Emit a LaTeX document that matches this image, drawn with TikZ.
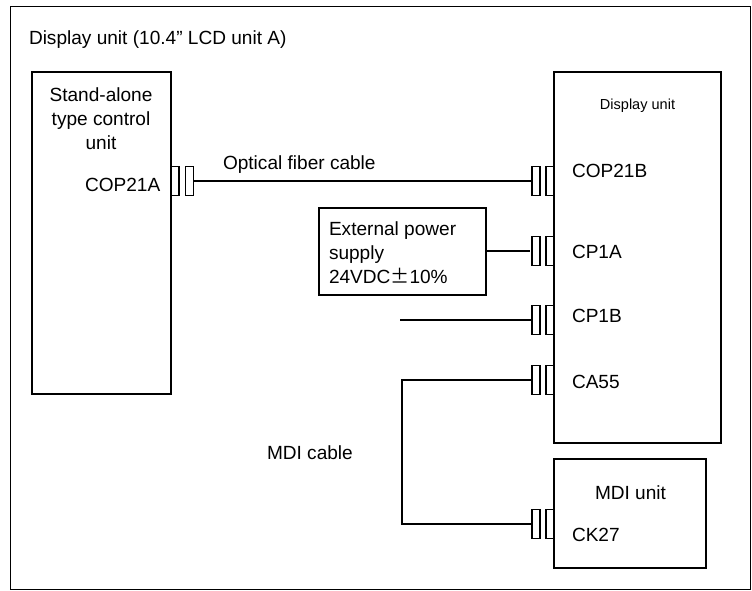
\documentclass[tikz,border=0pt]{standalone}
\usepackage{fontspec}
\setmainfont{Liberation Sans}
\newfontfamily\cjkfont{Noto Sans CJK SC}
\tikzset{
  wiring diagram/.style={
    x=0.75pt,y=-0.75pt,line width=1pt,
    every node/.style={font=\fontsize{14.3}{18}\selectfont,
      text=black, inner sep=0pt, outer sep=0pt}
  },
  unitbox/.style={draw=black, line width=1.1pt},
  pinbox/.style={draw=black, line width=0.9pt, minimum width=6pt, minimum height=21.75pt}
}
\newcommand{\UnitBox}[5]{%
  \node[unitbox,anchor=north west,minimum width=#3*0.75pt,minimum height=#4*0.75pt] (#5) at (#1,#2) {};
}
\newcommand{\PinPair}[4]{%
  \node[pinbox] (#1 in) at (#3,#4) {};
  \node[pinbox] (#1 out) at (#2,#4) {};
}
\begin{document}
\begin{tikzpicture}[wiring diagram]
    \useasboundingbox (0,0) rectangle (752,591);
    \node[draw=black,line width=0.75pt,anchor=north west,minimum width=740*0.75pt,minimum height=582.5*0.75pt] (frame) at (10,6.5) {};
    \UnitBox{32}{72}{139}{322}{control}
    \UnitBox{554}{72}{167}{371}{display}
    \UnitBox{554}{459}{152}{109}{mdi}
    \UnitBox{319}{208}{167}{87}{power}
    % connectors
    \PinPair{cop a}{189.5}{175}{181}
    \PinPair{cop b}{536}{550}{181}
    \PinPair{cp1a}{536}{550}{251}
    \PinPair{cp1b}{536}{550}{320}
    \PinPair{ca55}{536}{550}{380}
    \PinPair{ck27}{536}{550}{524}
    \coordinate (cp1b free) at (400,320);
    \coordinate (mdi upper) at (402,380);
    \coordinate (mdi lower) at (402,524);
    \draw (cop a out.east) -- (cop b out.west);
    \draw[shorten >=1.5pt] (power.east |- cp1a out.west) -- (cp1a out.west);
    \draw (cp1b free) -- (cp1b out.west);
    \draw (ca55 out.west) -- (mdi upper) -- (mdi lower) -- (ck27 out.west);
    % labels
    \node[anchor=west] (title) at (29,40) {Display unit (10.4” LCD unit A)};
    \node[align=center] (control name) at (101,119) {Stand-alone\\type control\\unit};
    \node[anchor=west] (cop a name) at (85,185) {COP21A};
    \node[anchor=west] (fiber) at (223,165) {Optical fiber cable};
    \node[font=\fontsize{10.9}{13}\selectfont] (display name) at (637.5,106) {Display unit};
    \node[anchor=west] (cop b name) at (572,171) {COP21B};
    \node[anchor=west] (cp1a name) at (572,252) {CP1A};
    \node[anchor=west] (cp1b name) at (572,316) {CP1B};
    \node[anchor=west] (ca55 name) at (572,382) {CA55};
    \node[anchor=west] (mdi cable) at (267,453) {MDI cable};
    \node (mdi name) at (630.5,493) {MDI unit};
    \node[anchor=west] (ck27 name) at (572,535) {CK27};
    \node[anchor=west,align=left] (power name) at (329,253) {External power\\supply\\24VDC{\cjkfont ±}10\%};
  \end{tikzpicture}
\end{document}
